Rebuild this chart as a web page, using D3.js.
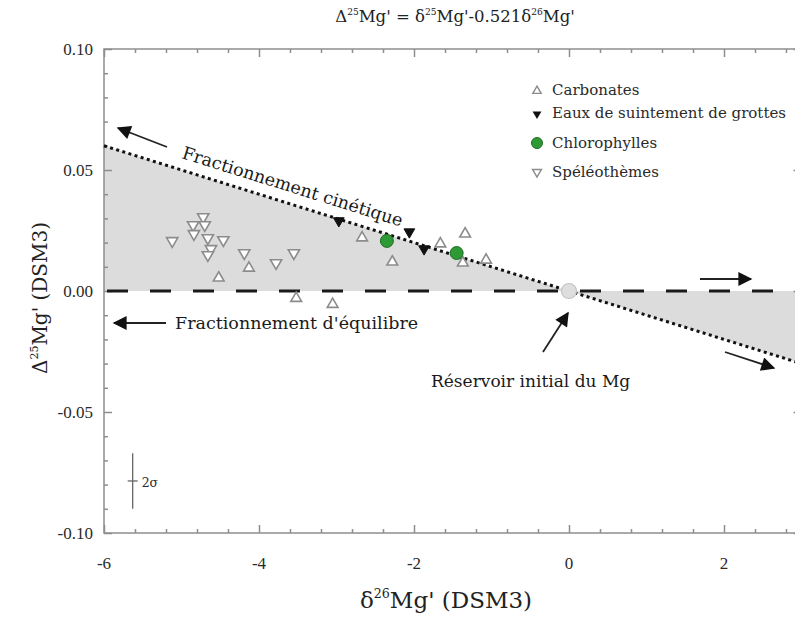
<!DOCTYPE html>
<html><head><meta charset="utf-8">
<script src="https://cdn.jsdelivr.net/npm/d3@7"></script>
<style>body{margin:0;background:#fff}svg{display:block}</style>
</head><body><svg id="c" width="795" height="617"></svg>
<script>
// ---- data ----
const xTicks = [-6, -4, -2, 0, 2];
const yTicks = [-0.10, -0.05, 0.00, 0.05, 0.10];
const yTickLabels = ["-0.10", "-0.05", "0.00", "0.05", "0.10"];
const carbonatesX = [-4.52, -4.13, -3.52, -3.05, -2.67, -2.28, -1.66, -1.34, -1.37, -1.07];
const carbonatesY = [0.0054, 0.0095, -0.0030, -0.0055, 0.0220, 0.0120, 0.0195, 0.0236, 0.0116, 0.0128];
const eauxX = [-2.97, -2.06, -1.87];
const eauxY = [0.0290, 0.0244, 0.0174];
const chloroX = [-2.35, -1.45];
const chloroY = [0.0207, 0.0157];
const speleoX = [-4.72, -4.85, -4.70, -4.84, -4.66, -5.12, -4.46, -4.62, -4.66, -4.19, -3.78, -3.55];
const speleoY = [0.0306, 0.0273, 0.0273, 0.0236, 0.0219, 0.0207, 0.0211, 0.0174, 0.0149, 0.0157, 0.0116, 0.0157];
const kineticSlope = -0.01;
const legendLabels = ["Carbonates", "Eaux de suintement de grottes", "Chlorophylles", "Spéléothèmes"];
const errCenter = [-5.63, -0.0785];
const errHalf = 0.0115;

// ---- layout ----
const svg = d3.select("#c");
const SERIF = "'DejaVu Serif', serif", TNUM = "'Liberation Serif', 'Times New Roman', serif";
const L = 104, R = 801.5, T = 49, B = 533;
const x = d3.scaleLinear().domain([-6, 3]).range([L, R]);
const y = d3.scaleLinear().domain([-0.10, 0.10]).range([B, T]);
const axisCol = "#8e8e8e", txtCol = "#2a2a2a";

// shaded region
const kin = v => kineticSlope * v;
svg.append("path")
  .attr("d", d3.line()([[x(-6), y(kin(-6))], [x(0), y(0)], [x(3), y(kin(3))], [x(3), y(0)], [x(-6), y(0)]]))
  .attr("fill", "#dcdcdc");

// frame
svg.append("rect").attr("x", L).attr("y", T).attr("width", R - L).attr("height", B - T)
  .attr("fill", "none").attr("stroke", axisCol).attr("stroke-width", 1.5);

// inward ticks on all four sides, built with d3 axes
const xMinor = d3.range(-6, 3.01, 0.4).filter(v => Math.abs(v / 2 - Math.round(v / 2)) > 0.01);
const yMinor = d3.range(-0.10, 0.1001, 0.01).filter(v => Math.abs(v / 0.05 - Math.round(v / 0.05)) > 0.01);
function ax(gen, tr, vals, len) {
  const g = svg.append("g").attr("transform", tr).call(gen.tickValues(vals).tickSize(len).tickFormat(""));
  g.select(".domain").remove();
  g.selectAll("line").attr("stroke", axisCol).attr("stroke-width", 1.5);
}
ax(d3.axisBottom(x), `translate(0,${B})`, xTicks, -8);
ax(d3.axisBottom(x), `translate(0,${B})`, xMinor, -4);
ax(d3.axisTop(x), `translate(0,${T})`, xTicks, -8);
ax(d3.axisTop(x), `translate(0,${T})`, xMinor, -4);
ax(d3.axisLeft(y), `translate(${L},0)`, yTicks, -8);
ax(d3.axisLeft(y), `translate(${L},0)`, yMinor, -4);
ax(d3.axisRight(y), `translate(${R},0)`, yTicks, -8);
ax(d3.axisRight(y), `translate(${R},0)`, yMinor, -4);

// tick labels
svg.append("g").selectAll("text").data(xTicks).join("text")
  .attr("x", d => x(d)).attr("y", 569).attr("text-anchor", "middle").style("font-family", TNUM)
  .attr("font-size", 17).attr("fill", txtCol).text(d => d);
svg.append("g").selectAll("text").data(yTicks).join("text")
  .attr("x", 93).attr("y", d => y(d) + 5.5).attr("text-anchor", "end").style("font-family", TNUM)
  .attr("font-size", 17).attr("fill", txtCol).text((d, i) => yTickLabels[i]);

// dashed equilibrium line
svg.append("line").attr("x1", x(-6) + 3).attr("x2", R).attr("y1", y(0)).attr("y2", y(0))
  .attr("stroke", "#1a1a1a").attr("stroke-width", 3.2).attr("stroke-dasharray", "21,22");
// dotted kinetic line
svg.append("line").attr("x1", x(-6)).attr("y1", y(kin(-6))).attr("x2", x(3)).attr("y2", y(kin(3)))
  .attr("stroke", "#111").attr("stroke-width", 3).attr("stroke-dasharray", "3,3.4");

// initial reservoir
svg.append("circle").attr("cx", x(0)).attr("cy", y(0)).attr("r", 7.5)
  .attr("fill", "#dedede").attr("stroke", "#c4c4c4").attr("stroke-width", 1.2);

// markers
const tri = d3.symbol().type(d3.symbolTriangle);
function pts(xs, ys, size, rot, fill, stroke, sw) {
  svg.append("g").selectAll("path").data(xs.map((v, i) => [v, ys[i]])).join("path")
    .attr("d", tri.size(size)())
    .attr("transform", d => `translate(${x(d[0])},${y(d[1])}) rotate(${rot})`)
    .attr("fill", fill).attr("stroke", stroke).attr("stroke-width", sw);
}
pts(carbonatesX, carbonatesY, 50, 0, "#fff", "#8c8c8c", 1.6);
pts(speleoX, speleoY, 55, 180, "#fff", "#8c8c8c", 1.6);
pts(eauxX, eauxY, 50, 180, "#111", "#111", 1);
svg.append("g").selectAll("circle").data(chloroX.map((v, i) => [v, chloroY[i]])).join("circle")
  .attr("cx", d => x(d[0])).attr("cy", d => y(d[1])).attr("r", 6.5)
  .attr("fill", "#2e9a35").attr("stroke", "#1f6b25").attr("stroke-width", 1);

// legend
const legY = [91, 114, 143, 172];
const legBase = [95, 118, 148, 177];
const lg = svg.append("g");
lg.append("path").attr("d", tri.size(30)()).attr("transform", `translate(537,${legY[0]})`)
  .attr("fill", "#fff").attr("stroke", "#8c8c8c").attr("stroke-width", 1.4);
lg.append("path").attr("d", tri.size(34)()).attr("transform", `translate(537,${legY[1]}) rotate(180)`)
  .attr("fill", "#111");
lg.append("circle").attr("cx", 537).attr("cy", legY[2]).attr("r", 5.5).attr("fill", "#2e9a35").attr("stroke", "#1f6b25");
lg.append("path").attr("d", tri.size(34)()).attr("transform", `translate(537,${legY[3]}) rotate(180)`)
  .attr("fill", "#fff").attr("stroke", "#8c8c8c").attr("stroke-width", 1.4);
lg.selectAll("text").data(legendLabels).join("text").style("font-family", SERIF)
  .attr("x", 552).attr("y", (d, i) => legBase[i]).attr("font-size", 15).attr("fill", txtCol).text(d => d);

// arrows
const defs = svg.append("defs");
defs.append("marker").attr("id", "ah").attr("viewBox", "0 0 10 10").attr("refX", 9).attr("refY", 5)
  .attr("markerWidth", 20).attr("markerHeight", 14).attr("markerUnits", "userSpaceOnUse")
  .attr("orient", "auto").append("path").attr("d", "M0,0L10,5L0,10z").attr("fill", "#111");
function arrow(a, b) {
  svg.append("line").attr("x1", a[0]).attr("y1", a[1]).attr("x2", b[0]).attr("y2", b[1])
    .attr("stroke", "#222").attr("stroke-width", 1.8).attr("marker-end", "url(#ah)");
}
arrow([167, 147], [118, 128]);
arrow([166, 323], [114, 323]);
arrow([700, 279], [751, 279]);
arrow([725, 352], [774, 368]);
arrow([543, 352], [568, 313]);

// annotations
const ang = Math.atan2(y(kin(1)) - y(0), x(1) - x(0)) * 180 / Math.PI;
svg.append("text").attr("transform", `translate(181,158) rotate(${ang})`).style("font-family", SERIF)
  .attr("font-size", 17.5).attr("fill", "#1a1a1a").text("Fractionnement cinétique");
svg.append("text").attr("x", 175).attr("y", 329).attr("font-size", 17.5).style("font-family", SERIF).attr("fill", "#1a1a1a")
  .text("Fractionnement d'équilibre");
svg.append("text").attr("x", 431).attr("y", 387).attr("font-size", 17).style("font-family", SERIF).attr("fill", "#1a1a1a")
  .text("Réservoir initial du Mg");

// 2 sigma error bar
svg.append("line").attr("x1", x(errCenter[0])).attr("x2", x(errCenter[0]))
  .attr("y1", y(errCenter[1] + errHalf)).attr("y2", y(errCenter[1] - errHalf)).attr("stroke", "#666").attr("stroke-width", 1.3);
svg.append("line").attr("x1", x(errCenter[0]) - 5).attr("x2", x(errCenter[0]) + 5)
  .attr("y1", y(errCenter[1])).attr("y2", y(errCenter[1])).attr("stroke", "#666").attr("stroke-width", 1.3);
svg.append("text").attr("x", x(errCenter[0]) + 9).attr("y", y(errCenter[1]) + 6).style("font-family", SERIF)
  .attr("font-size", 12.5).attr("fill", txtCol).text("2σ");

// rich text with superscripts
function rich(t, segs, size) {
  const ss = size * 0.55, up = size * 0.45;
  let raised = false;
  segs.forEach(s => {
    const sp = t.append("tspan").text(s[0]);
    if (s[1] && !raised) { sp.attr("font-size", ss).attr("dy", -up); raised = true; }
    else if (!s[1] && raised) { sp.attr("dy", up); raised = false; }
  });
}
const tt = svg.append("text").attr("x", 455).attr("y", 22).attr("text-anchor", "middle")
  .style("font-family", SERIF).attr("font-size", 16.5).attr("fill", "#222");
rich(tt, [["Δ"], ["25", 1], ["Mg' = δ"], ["25", 1], ["Mg'-0.521δ"], ["26", 1], ["Mg'"]], 16.5);

const xl = svg.append("text").attr("x", 446).attr("y", 608).attr("text-anchor", "middle")
  .style("font-family", SERIF).attr("font-size", 23).attr("fill", "#222");
rich(xl, [["δ"], ["26", 1], ["Mg' (DSM3)"]], 23);
const yl = svg.append("text").attr("transform", "translate(47,298) rotate(-90)").attr("text-anchor", "middle")
  .style("font-family", SERIF).attr("font-size", 20).attr("fill", "#222");
rich(yl, [["Δ"], ["25", 1], ["Mg' (DSM3)"]], 20);
</script></body></html>
